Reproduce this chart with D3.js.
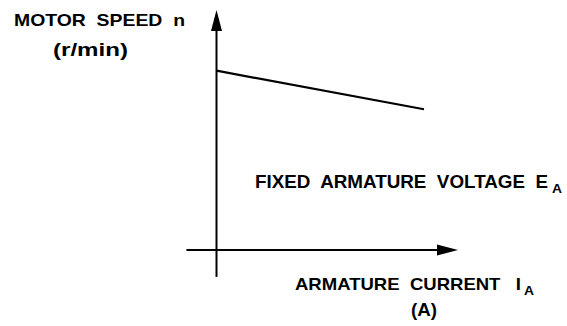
<!DOCTYPE html>
<html>
<head>
<meta charset="utf-8">
<script src="https://cdn.jsdelivr.net/npm/d3@7"></script>
<style>
  body { margin: 0; background: #fff; }
  text { font-family: "Liberation Sans", Arial, sans-serif; font-weight: bold; fill: #000; white-space: pre; }
</style>
</head>
<body>
<div id="chart"></div>
<script>
// armature current (arbitrary units) and motor speed (r/min)
const current = [0, 100];
const speed = [1000, 785];

// how far the drawn axes reach, in data units
const currentAxisExtent = [-14.5, 116.4];
const speedAxisExtent = [-150, 1339];

const WIDTH = 567, HEIGHT = 326;

const svg = d3.select("#chart").append("svg")
    .attr("width", WIDTH)
    .attr("height", HEIGHT);

const x = d3.scaleLinear().domain([0, 100]).range([216.5, 424]);
const y = d3.scaleLinear().domain([0, 1000]).range([250, 70.7]);

// axes (no ticks, just arrows)
svg.append("line")
    .attr("x1", x(currentAxisExtent[0])).attr("x2", x(currentAxisExtent[1]) - 15)
    .attr("y1", y(0)).attr("y2", y(0))
    .attr("stroke", "#000").attr("stroke-width", 2);

svg.append("line")
    .attr("x1", x(0)).attr("x2", x(0))
    .attr("y1", y(speedAxisExtent[0])).attr("y2", y(speedAxisExtent[1]) + 15)
    .attr("stroke", "#000").attr("stroke-width", 2);

// arrowheads
const xt = x(currentAxisExtent[1]), yt = y(0);
svg.append("path")
    .attr("d", `M${xt},${yt} L${xt - 21},${yt - 5.5} L${xt - 21},${yt + 5.5} Z`)
    .attr("fill", "#000");

const ax = x(0), ay = y(speedAxisExtent[1]);
svg.append("path")
    .attr("d", `M${ax},${ay} L${ax - 5.5},${ay + 21} L${ax + 5.5},${ay + 21} Z`)
    .attr("fill", "#000");

// speed characteristic
const line = d3.line()
    .x((d, i) => x(current[i]))
    .y(d => y(d));

svg.append("path")
    .datum(speed)
    .attr("d", line)
    .attr("fill", "none")
    .attr("stroke", "#000")
    .attr("stroke-width", 2.2);

// labels
function label(txt, px, py, size, len) {
    const t = svg.append("text")
        .attr("x", px).attr("y", py)
        .style("font-size", size + "px")
        .text(txt);
    if (len) t.attr("textLength", len).attr("lengthAdjust", "spacingAndGlyphs");
    return t;
}

label("MOTOR  SPEED  n", 14, 26, 17, 171);
label("(r/min)", 53, 56, 19, 75);

label("FIXED  ARMATURE  VOLTAGE  E", 255, 187.5, 18, 293);
label("A", 552, 193, 12, 10);

label("ARMATURE  CURRENT   I", 295, 290, 17, 226);
label("A", 524, 295, 12, 10);

label("(A)", 411, 316, 19, 26);
</script>
</body>
</html>
